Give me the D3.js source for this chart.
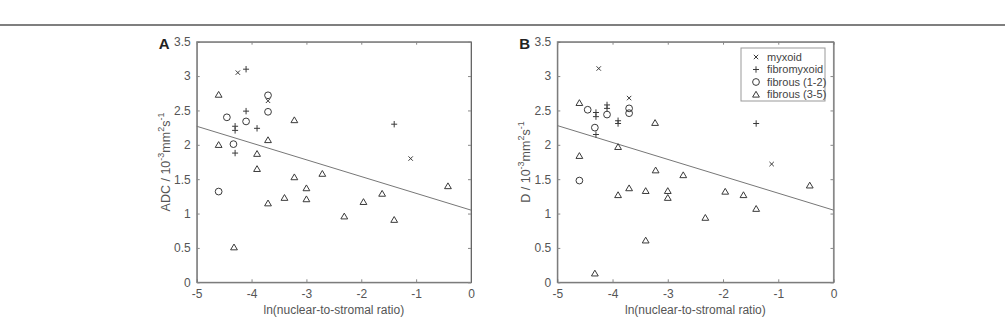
<html>
  <head>
    <meta charset="utf-8">
    <script src="https://cdn.jsdelivr.net/npm/d3@7"></script>
    <style>
      body { margin: 0; background: #fff; }
      text { font-family: "Liberation Sans", Arial, sans-serif; }
    </style>
  </head>
  <body>
    <div id="chart"></div>
  </body>
  <script>
    // axis ticks
    const xTicks = [-5, -4, -3, -2, -1, 0]
    const yTicks = [0, 0.5, 1, 1.5, 2, 2.5, 3, 3.5]
    const groups = ["myxoid", "fibromyxoid", "fibrous (1-2)", "fibrous (3-5)"]

    // panel A: ADC vs ln(nuclear-to-stromal ratio)
    const adcMyxoid = [[-4.25, 3.05], [-3.7, 2.64], [-1.1, 1.8]]
    const adcFibromyxoid = [[-4.1, 3.1], [-4.1, 2.49], [-4.3, 2.27], [-4.3, 2.21], [-3.9, 2.24], [-4.3, 1.88], [-1.4, 2.3]]
    const adcFibrous12 = [[-3.7, 2.72], [-3.7, 2.48], [-4.45, 2.4], [-4.1, 2.34], [-4.33, 2.01], [-4.6, 1.32]]
    const adcFibrous35 = [[-4.6, 2.73], [-3.22, 2.36], [-3.7, 2.07], [-4.6, 2.0], [-3.9, 1.87], [-3.9, 1.65], [-3.7, 1.15],
      [-3.4, 1.23], [-3.22, 1.53], [-3.0, 1.37], [-3.0, 1.21], [-2.71, 1.58], [-4.32, 0.51], [-0.42, 1.40],
      [-1.62, 1.29], [-1.96, 1.17], [-2.31, 0.96], [-1.4, 0.91]]
    const adcFit = [[-5, 2.27], [0, 1.05]]

    // panel B: D vs ln(nuclear-to-stromal ratio)
    const dMyxoid = [[-4.25, 3.11], [-3.7, 2.68], [-1.12, 1.72]]
    const dFibromyxoid = [[-4.1, 2.58], [-4.1, 2.53], [-4.3, 2.47], [-4.3, 2.41], [-4.3, 2.15], [-3.9, 2.35], [-3.9, 2.31], [-1.4, 2.31]]
    const dFibrous12 = [[-3.7, 2.53], [-3.7, 2.46], [-4.45, 2.51], [-4.1, 2.44], [-4.32, 2.25], [-4.6, 1.48]]
    const dFibrous35 = [[-4.6, 2.61], [-3.23, 2.32], [-3.9, 1.97], [-4.6, 1.84], [-3.9, 1.27], [-3.7, 1.37], [-3.4, 1.33],
      [-3.22, 1.63], [-3.0, 1.33], [-3.0, 1.23], [-2.72, 1.56], [-3.4, 0.61], [-4.32, 0.13], [-0.43, 1.41],
      [-1.96, 1.32], [-1.63, 1.27], [-1.4, 1.07], [-2.32, 0.94]]
    const dFit = [[-5, 2.28], [0, 1.05]]

    const W = 1005, H = 324
    const markColor = "#3a3a3a"

    // marker paths, stroked
    const markerPath = {
      "myxoid": "M-2.2,-2.2L2.2,2.2M-2.2,2.2L2.2,-2.2",
      "fibromyxoid": "M-3,0H3M0,-3.2V3.2",
      "fibrous (1-2)": d3.symbol(d3.symbolCircle, 36)(),
      "fibrous (3-5)": "M0,-3.2L3.4,2.6L-3.4,2.6Z"
    }

    let svg = d3.select("#chart").append("svg")
      .attr("width", W)
      .attr("height", H)

    // top rule
    svg.append("line")
      .attr("x1", 0).attr("x2", W)
      .attr("y1", 25).attr("y2", 25)
      .attr("stroke", "#555").attr("stroke-width", 1.5)

    function drawPanel (opts) {
      let x = d3.scaleLinear().domain([-5, 0]).range([opts.left, opts.right])
      let y = d3.scaleLinear().domain([0, 3.5]).range([282.3, 41.7])
      let g = svg.append("g")

      // box
      g.append("rect")
        .attr("x", x(-5)).attr("y", y(3.5))
        .attr("width", x(0) - x(-5)).attr("height", y(0) - y(3.5))
        .attr("fill", "none").attr("stroke", "#aaa").attr("stroke-width", 1.2)

      // axes with inward ticks, plain hyphen for minus
      g.append("g")
        .attr("transform", "translate(0," + y(0) + ")")
        .call(d3.axisBottom(x).tickValues(xTicks).tickSizeInner(-3).tickSizeOuter(0).tickPadding(7)
          .tickFormat((d) => String(d)))
      g.append("g")
        .attr("transform", "translate(" + x(-5) + ",0)")
        .call(d3.axisLeft(y).tickValues(yTicks).tickSizeInner(-3).tickSizeOuter(0).tickPadding(6)
          .tickFormat((d) => String(d)))
      g.append("g")
        .attr("transform", "translate(0," + y(3.5) + ")")
        .call(d3.axisTop(x).tickValues(xTicks).tickSizeInner(-3).tickSizeOuter(0).tickFormat(""))
      g.append("g")
        .attr("transform", "translate(" + x(0) + ",0)")
        .call(d3.axisRight(y).tickValues(yTicks).tickSizeInner(-3).tickSizeOuter(0).tickFormat(""))

      g.selectAll(".domain").attr("stroke", "#666")
      g.selectAll(".tick line").attr("stroke", "#888")
      g.selectAll(".tick text").attr("fill", "#555").style("font-size", "12px")
        .style("font-family", "'Liberation Sans', Arial, sans-serif")

      // fit line
      g.append("path")
        .datum(opts.fit)
        .attr("d", d3.line().x((d) => x(d[0])).y((d) => y(d[1])))
        .attr("fill", "none").attr("stroke", "#777").attr("stroke-width", 1)

      // points
      opts.series.forEach((s, i) => {
        g.append("g").selectAll("path")
          .data(s)
          .enter().append("path")
          .attr("transform", (d) => "translate(" + x(d[0]) + "," + y(d[1]) + ")")
          .attr("d", markerPath[groups[i]])
          .attr("fill", "none").attr("stroke", markColor).attr("stroke-width", 1)
      })

      // panel letter
      g.append("text")
        .attr("x", opts.left - 38).attr("y", 49)
        .style("font-size", "15px").style("font-weight", "bold")
        .attr("fill", "#222")
        .text(opts.letter)

      // x label
      g.append("text")
        .attr("x", (x(-5) + x(0)) / 2).attr("y", 314)
        .attr("text-anchor", "middle")
        .style("font-size", "12px").attr("fill", "#555")
        .text("ln(nuclear-to-stromal ratio)")

      // y label with superscripts
      let yl = g.append("text")
        .attr("transform", "translate(" + (opts.left - 27) + "," + ((y(0) + y(3.5)) / 2) + ") rotate(-90)")
        .attr("text-anchor", "middle")
        .style("font-size", "12.5px").attr("fill", "#555")
      yl.append("tspan").text(opts.ylabel + " / 10")
      yl.append("tspan").attr("dy", -6).style("font-size", "9px").text("-3")
      yl.append("tspan").attr("dy", 6).text("mm")
      yl.append("tspan").attr("dy", -6).style("font-size", "9px").text("2")
      yl.append("tspan").attr("dy", 6).text("s")
      yl.append("tspan").attr("dy", -6).style("font-size", "9px").text("-1")

      return {x, y, g}
    }

    drawPanel({
      left: 196.7, right: 471, letter: "A", ylabel: "ADC", fit: adcFit,
      series: [adcMyxoid, adcFibromyxoid, adcFibrous12, adcFibrous35]
    })
    drawPanel({
      left: 557.3, right: 833.5, letter: "B", ylabel: "D", fit: dFit,
      series: [dMyxoid, dFibromyxoid, dFibrous12, dFibrous35]
    })

    // legend in panel B
    let legend = svg.append("g").attr("transform", "translate(741,48)")
    legend.append("rect")
      .attr("width", 84).attr("height", 53)
      .attr("fill", "#fff").attr("stroke", "#999").attr("stroke-width", 1)
    let items = legend.selectAll("g.item")
      .data(groups)
      .enter().append("g")
      .attr("transform", (d, i) => "translate(0," + (9 + i * 12.5) + ")")
    items.append("path")
      .attr("transform", "translate(15,0)")
      .attr("d", (d) => markerPath[d])
      .attr("fill", "none").attr("stroke", markColor).attr("stroke-width", 1)
    items.append("text")
      .attr("x", 26).attr("dy", "0.35em")
      .style("font-size", "11px").attr("fill", "#444")
      .text((d) => d)
  </script>
</html>
